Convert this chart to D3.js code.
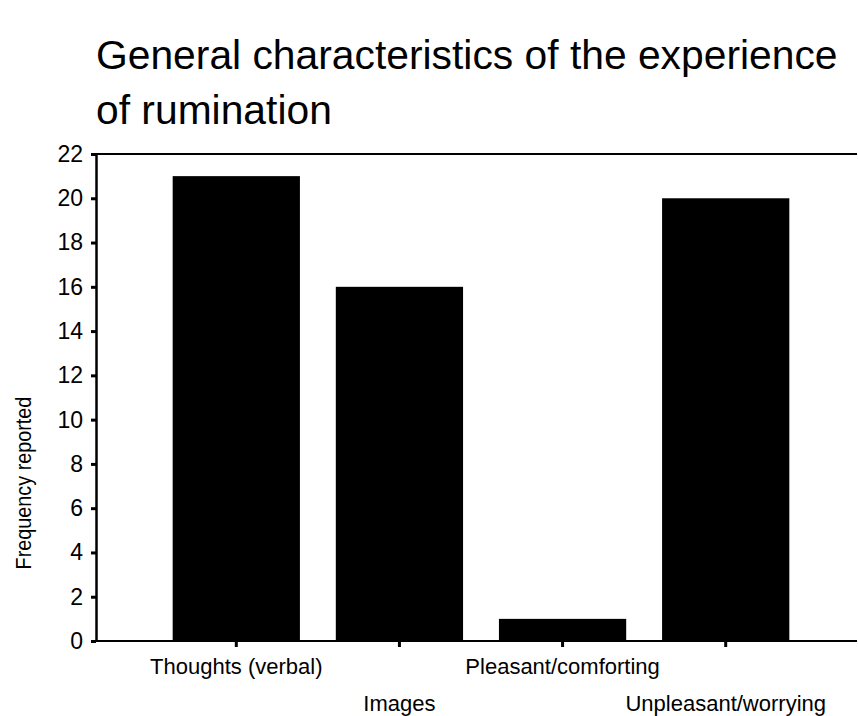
<!DOCTYPE html>
<html>
<head>
<meta charset="utf-8">
<script src="https://cdn.jsdelivr.net/npm/d3@7"></script>
<style>
  html, body { margin: 0; padding: 0; background: #fff; }
  svg { display: block; font-family: "Liberation Sans", Arial, sans-serif; }
</style>
</head>
<body>
<svg id="chart" width="858" height="716"></svg>
<script>
// Rumination characteristics: how often each was reported
const categories = ["Thoughts (verbal)", "Images", "Pleasant/comforting", "Unpleasant/worrying"];
const frequencies = [21, 16, 1, 20];
const yTicks = [0, 2, 4, 6, 8, 10, 12, 14, 16, 18, 20, 22];
const titleLines = ["General characteristics of the experience", "of rumination"];
const yLabel = "Frequency reported";

const svg = d3.select("#chart");
const W = 858, H = 716;
const plotLeft = 96, plotTop = 154, plotBottom = 641, plotRight = 866;

const x = d3.scaleBand()
  .domain(categories)
  .range([plotLeft, plotRight])
  .paddingInner(0.22)
  .paddingOuter(0.47);

const y = d3.scaleLinear().domain([0, 22]).range([plotBottom, plotTop]);

// Title
svg.append("g").selectAll("text")
  .data(titleLines)
  .join("text")
  .attr("x", plotLeft)
  .attr("y", (d, i) => 69 + i * 55)
  .attr("font-size", 40.8)
  .attr("fill", "#000")
  .text(d => d);

// Bars
svg.append("g").selectAll("rect")
  .data(categories)
  .join("rect")
  .attr("x", d => x(d))
  .attr("width", x.bandwidth())
  .attr("y", (d, i) => y(frequencies[i]))
  .attr("height", (d, i) => y(0) - y(frequencies[i]))
  .attr("fill", "#000");

// Top frame line
svg.append("line")
  .attr("x1", plotLeft).attr("x2", W - 1)
  .attr("y1", plotTop).attr("y2", plotTop)
  .attr("stroke", "#000").attr("stroke-width", 2);

// Y axis
const yAxis = svg.append("g")
  .attr("transform", `translate(${plotLeft},0)`)
  .call(d3.axisLeft(y).tickValues(yTicks).tickSize(5).tickPadding(8).tickSizeOuter(0));
yAxis.select(".domain").attr("stroke", "#000").attr("stroke-width", 2.5);
yAxis.selectAll(".tick line").attr("stroke", "#000").attr("stroke-width", 3);
yAxis.selectAll(".tick text")
  .attr("font-size", 23)
  .attr("font-family", "Liberation Sans, Arial, sans-serif")
  .attr("fill", "#000");

// X axis with staggered category labels
const xAxis = svg.append("g")
  .attr("transform", `translate(0,${plotBottom})`)
  .call(d3.axisBottom(x).tickSize(6).tickSizeOuter(0));
xAxis.select(".domain")
  .attr("d", `M${plotLeft - 4},0H${W - 1}`)
  .attr("stroke", "#000").attr("stroke-width", 2);
xAxis.selectAll(".tick line").attr("stroke", "#000").attr("stroke-width", 3);
xAxis.selectAll(".tick text")
  .attr("font-size", 22)
  .attr("font-family", "Liberation Sans, Arial, sans-serif")
  .attr("fill", "#000")
  .attr("dy", 0)
  .attr("y", (d, i) => (i % 2 === 0 ? 33 : 70));

// Y axis title
svg.append("text")
  .attr("transform", `translate(31,483) rotate(-90) scale(0.88,1)`)
  .attr("text-anchor", "middle")
  .attr("font-size", 22.5)
  .attr("fill", "#000")
  .text(yLabel);
</script>
</body>
</html>
